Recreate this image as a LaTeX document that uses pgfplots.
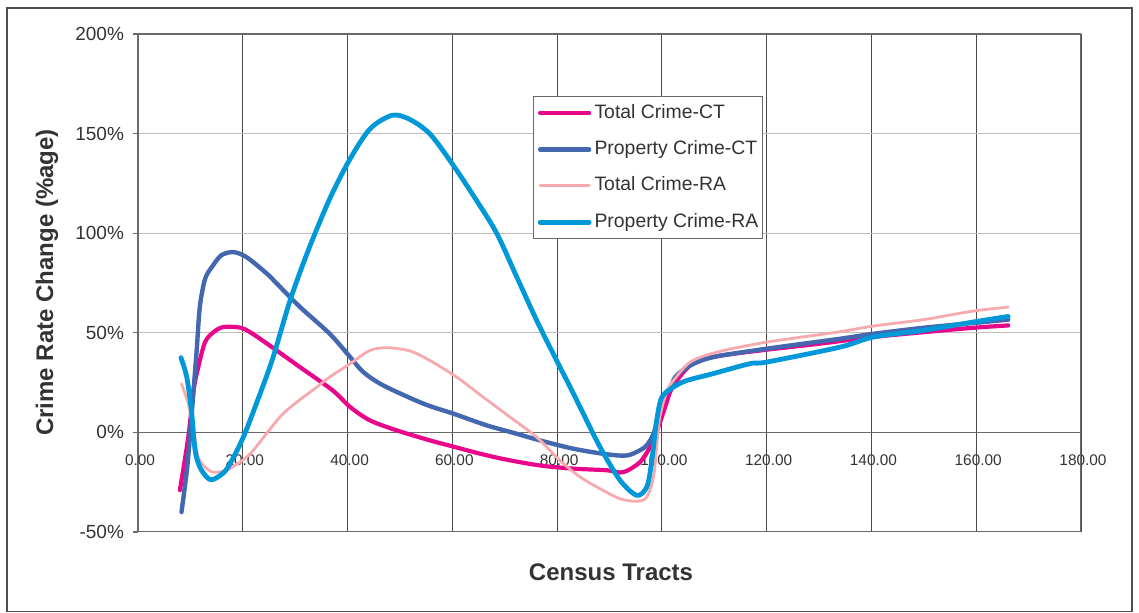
\documentclass[border=0pt]{standalone}
\usepackage{pgfplots}
\pgfplotsset{compat=1.18}
\usepackage{fontspec}
\setmainfont{Liberation Sans}

\definecolor{totct}{HTML}{E8078B}
\definecolor{propct}{HTML}{4468B0}
\definecolor{totra}{HTML}{F7AAAE}
\definecolor{propra}{HTML}{0098D8}
\definecolor{vgrid}{HTML}{4A4A4A}
\definecolor{hgrid}{HTML}{C4BCB6}
\definecolor{axisgray}{HTML}{6F6868}
\definecolor{framegray}{HTML}{4E4E4E}

\begin{document}
\begin{tikzpicture}
\useasboundingbox (-69pt,-40.5pt) rectangle (500.5pt,266pt);
\draw[color=framegray, line width=0.75pt] (-65.5pt,-39.8pt) rectangle (497pt,262pt);
\begin{axis}[
    at={(0,0)}, anchor=south west,
    scale only axis, width=471.5pt, height=249pt,
    xmin=0, xmax=180, ymin=-50, ymax=200,
    axis x line=middle, axis y line=left,
    axis line style={-, draw=axisgray, line width=0.8pt},
    every inner x axis line/.append style={-},
    hide obscured x ticks=false, hide obscured y ticks=false,
    xtick={0,20,...,180}, ytick={-50,0,...,200},
    grid=major,
    x grid style={draw=vgrid, line width=0.45pt},
    y grid style={draw=hgrid, line width=0.5pt},
    xtick style={draw=none},
    ytick style={draw=axisgray, line width=0.6pt},
    tick align=outside, major tick length=2.5pt,
    /pgf/number format/assume math mode=true,
    x tick label style={font=\fontsize{7.7}{9}\selectfont, color=black!80,
        /pgf/number format/fixed, /pgf/number format/fixed zerofill,
        /pgf/number format/precision=2, anchor=north, yshift=-5pt, xshift=1pt},
    yticklabel={\pgfmathprintnumber{\tick}\%},
    y tick label style={font=\fontsize{9.5}{11}\selectfont, color=black!80, xshift=-1pt},
    legend cell align=left,
    legend image code/.code={\draw[#1, line cap=round] (0pt,0pt) -- (24.5pt,0pt);},
    legend style={at={(0.419,0.875)}, anchor=north west, draw=axisgray, fill=white,
        line width=0.6pt, font=\fontsize{9.7}{11}\selectfont, text=black!80,
        nodes={inner sep=0pt, text height=7pt, text depth=2pt},
        row sep=9.2pt, column sep=1.5pt, inner xsep=2pt, inner ysep=3.6pt},
    every axis plot/.append style={smooth, tension=0.5, line cap=round, line join=round},
]
% Total Crime-CT
\addplot[color=totct, line width=2.1pt] coordinates {
(8,-29) (9.6,-2.4) (10.6,21) (11.5,32.8) (12.8,45.3) (14.4,50.3) (16.3,52.9)
(19.5,52.6) (21.4,50.3) (24.6,44.6) (30.9,32.8) (37.2,21) (40.5,12.7) (44.3,6)
(49.4,1) (55.7,-4) (60,-7) (65,-10.5) (70,-13.5) (76.7,-16.6) (83.1,-18.2)
(89.5,-19) (92.6,-20) (95.8,-15) (97.7,-7.5) (99.3,2.5) (100.6,12.6) (102,22.6)
(105.4,33.6) (110,38) (120,41.5) (130,44.5) (140.4,47.9) (149.9,50.3)
(159.4,52.5) (166.1,53.7)
};
% Property Crime-CT
\addplot[color=propct, line width=2.2pt] coordinates {
(8.3,-40) (9.4,-17.4) (10.2,7.7) (11.2,41.2) (11.8,63) (12.8,77) (14.1,83)
(15.9,88.9) (18.2,90.5) (20.7,88) (24.6,79.7) (26.5,74.7) (30.9,63) (36.6,49.5)
(40.5,37.8) (43,30.3) (46.8,23.6) (54.5,14.4) (60.2,9.4) (66.6,3.5) (72.3,-0.7)
(76.7,-4) (83.1,-8.2) (89.5,-11) (93.3,-11.6) (95.8,-9) (97.1,-6.5) (98.4,-0.7)
(99.4,9.4) (100,17) (101.6,22) (102.6,28) (105.4,33.6) (109.8,37.8) (120,42)
(134,47) (140.4,49.5) (149.9,52.5) (159.4,54.9) (166.1,56.6)
};
% Total Crime-RA
\addplot[color=totra, line width=1.4pt] coordinates {
(8.3,24.4) (9.6,14.4) (10.6,1) (11.5,-12.4) (12.8,-17.4) (14.4,-20) (16.9,-19)
(19.5,-14.9) (22,-9) (27.7,9.4) (34.1,22.7) (36.6,27.8) (40.5,34.5) (44.3,41.2)
(47.8,42.5) (52,40.8) (55.7,36.1) (60.8,27.8) (65.9,17.7) (71,7.7) (76.1,-2.4)
(80.5,-14) (84.4,-22.4) (88.2,-28.3) (92,-33.3) (95.2,-34.6) (97.1,-32.5)
(98.4,-22.4) (99,-7.4) (99.6,7.7) (101,21) (102.2,26) (105.4,35.3) (110.5,40.3)
(120,45.3) (133.4,50.3) (140.4,53.4) (149.9,56.6) (159.4,60.9) (166.1,62.9)
};
% Property Crime-RA
\addplot[color=propra, line width=2.4pt] coordinates {
(8.2,37.5) (9.3,27.8) (10.2,11) (10.9,-9) (11.8,-17.4) (13.1,-22.4) (14.1,-23.8)
(15.7,-21.6) (17.2,-17.4) (20.1,-2.4) (23.3,19.4) (25.8,37.8) (29,66) (32.5,91.4)
(36.6,117.3) (40.5,137.4) (44.3,152.4) (48.4,159.1) (51.6,157.5) (55.7,149.9)
(60.2,134) (64.6,116.5) (68.5,99.8) (72.3,78) (76.1,56.2) (79.9,36.1) (82.5,22.7)
(85,9.4) (88.2,-7.4) (92,-24) (95.2,-31.6) (97.1,-27.5) (98,-15.7) (99,6)
(100,17.7) (102.2,22.7) (104.7,26) (109.8,29.5) (116.8,34.5) (120,35.3)
(134,42.8) (140.4,47.9) (149.9,51.2) (159.4,55.4) (166.1,58.2)
};
\legend{Total Crime-CT, Property Crime-CT, Total Crime-RA, Property Crime-RA}
\draw[axisgray, line width=0.6pt] (rel axis cs:0,1) -- (rel axis cs:1,1) -- (rel axis cs:1,0);
\draw[axisgray, line width=1pt] (rel axis cs:0,0) -- (rel axis cs:1,0);
\end{axis}
\node[rotate=90, font=\bfseries\fontsize{12}{14}\selectfont, text=black!80] at (-45.5pt,124.75pt) {Crime Rate Change (\%age)};
\node[font=\bfseries\fontsize{12}{14}\selectfont, text=black!80] at (236.5pt,-20pt) {Census Tracts};
\end{tikzpicture}
\end{document}
